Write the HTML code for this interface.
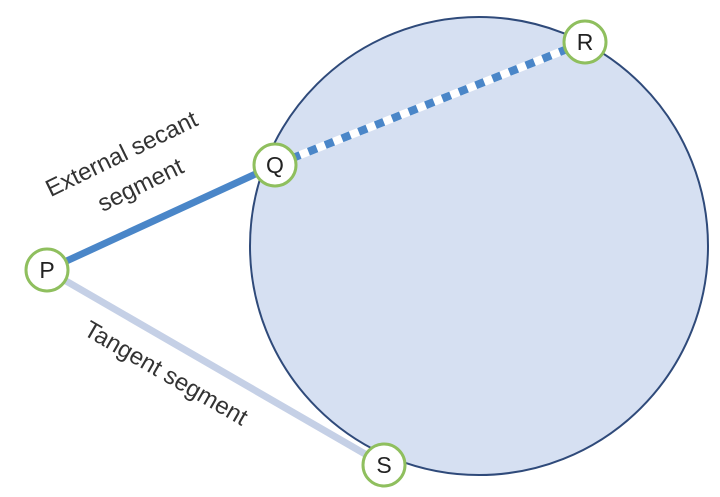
<!DOCTYPE html>
<html><head><style>body{margin:0;background:#fff}svg{display:block}</style></head>
<body>
<svg width="720" height="497" viewBox="0 0 720 497" xmlns="http://www.w3.org/2000/svg" font-family="Liberation Sans, sans-serif">
<circle cx="479" cy="246" r="229" fill="#d6e0f2" stroke="#2f4a7a" stroke-width="2"/>
<line x1="47" y1="270" x2="384" y2="465" stroke="#c5d0e6" stroke-width="7"/>
<line x1="47" y1="270" x2="275" y2="165" stroke="#4a86c8" stroke-width="7"/>
<line x1="275" y1="165" x2="585" y2="42" stroke="#ffffff" stroke-width="8"/>
<line x1="275" y1="165" x2="585" y2="42" stroke="#4a86c8" stroke-width="8" stroke-dasharray="9 9"/>
<g fill="#fff" stroke="#8fbf5e" stroke-width="3">
<circle cx="47" cy="270" r="21"/><circle cx="275" cy="165" r="21"/>
<circle cx="585" cy="42" r="21"/><circle cx="384" cy="465" r="21"/>
</g>
<g font-size="23" fill="#222" text-anchor="middle">
<text x="47" y="278">P</text><text x="275" y="173">Q</text>
<text x="585" y="50">R</text><text x="384" y="473">S</text>
</g>
<g font-size="24" fill="#333" text-anchor="middle">
<text transform="translate(125,161) rotate(-26)">External secant</text>
<text transform="translate(144,192) rotate(-26)">segment</text>
<text transform="translate(162,380) rotate(30)">Tangent segment</text>
</g>
</svg>
</body></html>
